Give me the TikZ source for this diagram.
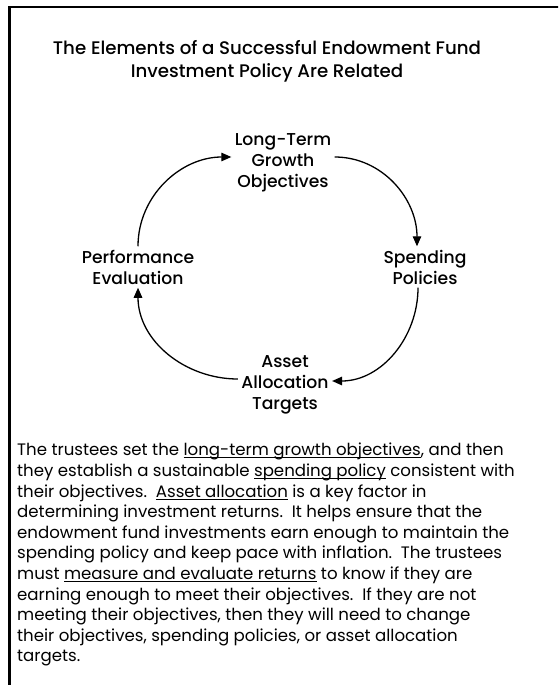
\documentclass[tikz,border=0pt]{standalone}
\usepackage{fontspec}
\setmainfont{Poppins}
\newfontfamily\semifont{Poppins Medium}
\newcommand\ulphrase[1]{\setbox0\hbox{#1}\rlap{\rule[-2.4pt]{\wd0}{0.9pt}}\box0\relax}
\usetikzlibrary{arrows.meta}
\tikzset{
  label/.style={align=center,font=\semifont\fontsize{17.2}{21}\selectfont},
  cycle/.style={line width=1.3pt,-{Triangle[length=10pt,width=8.5pt]}}
}
\begin{document}
\begin{tikzpicture}[x=1pt,y=1pt]
      \clip (0,0) rectangle (558,-685);
      \draw[line width=2.5pt] (9.5,-700) |- (580,-7);

      \node[align=center,font=\semifont\fontsize{18.2}{23}\selectfont] (title) at (267,-61) {The Elements of a Successful Endowment Fund\\Investment Policy Are Related};

      \node[label] (goals) at (283,-163) {Long-Term\\Growth\\Objectives};
      \node[label] (spend) at (425,-267) {Spending\\Policies};
      \node[label] (perf) at (138,-267) {Performance\\Evaluation};
      \node[label] (asset) at (285,-385) {Asset\\Allocation\\Targets};

      \draw[cycle] (perf.north) to[out=90,in=180] ([yshift=6pt]goals.west);
      \draw[cycle] ([yshift=6pt]goals.east) to[out=0,in=90] ([xshift=-8pt]spend.north);
      \draw[cycle] ([xshift=-7pt]spend.south) to[out=270,in=0] ([yshift=4pt]asset.east);
      \draw[cycle] ([yshift=6pt]asset.west) to[out=180,in=270] (perf.south);

      \node[anchor=north west,align=left,inner sep=0pt,font=\fontsize{16.6}{20.6}\selectfont] (txt) at (17,-443) {The trustees set the \ulphrase{long-term growth objectives}, and then\\
they establish a sustainable \ulphrase{spending policy} consistent with\\
their objectives.\ \ \ulphrase{Asset allocation} is a key factor in\\
determining investment returns.\ \ It helps ensure that the\\
endowment fund investments earn enough to maintain the\\
spending policy and keep pace with inflation.\ \ The trustees\\
must \ulphrase{measure and evaluate returns} to know if they are\\
earning enough to meet their objectives.\ \ If they are not\\
meeting their objectives, then they will need to change\\
their objectives, spending policies, or asset allocation\\
targets.};
    \end{tikzpicture}
\end{document}
